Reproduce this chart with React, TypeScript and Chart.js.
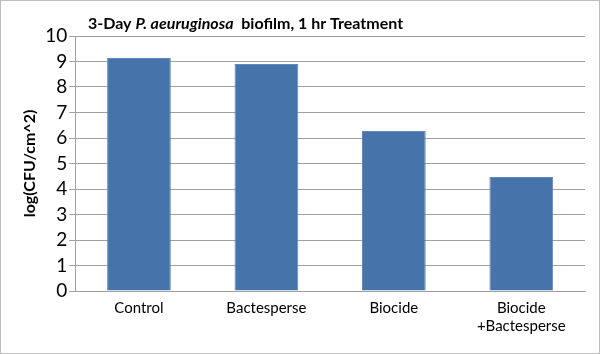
import React, { useEffect, useRef } from "react";
import { Chart, registerables } from "chart.js";

Chart.register(...registerables);

const categories: (string | string[])[] = ["Control", "Bactesperse", "Biocide", ["Biocide", "+Bactesperse"]];
const values = [9.14, 8.9, 6.27, 4.47];
const yTicks = [0, 1, 2, 3, 4, 5, 6, 7, 8, 9, 10];
const titleParts = [
  { text: "3-Day ", italic: false },
  { text: "P. aeuruginosa", italic: true },
  { text: "  biofilm, 1 hr Treatment", italic: false },
];
const yTitle = "log(CFU/cm^2)";

const FONT = "Lato, 'Open Sans', sans-serif";

const titlePlugin = {
  id: "mixedTitle",
  afterDraw(chart: any) {
    const ctx = chart.ctx;
    ctx.save();
    ctx.fillStyle = "#000";
    ctx.textBaseline = "alphabetic";
    let x = 87;
    const y = 28;
    for (const p of titleParts) {
      ctx.font = `${p.italic ? "italic " : ""}bold 16px ${FONT}`;
      ctx.fillText(p.text, x, y);
      x += ctx.measureText(p.text).width;
    }
    ctx.restore();
  },
};

export default function App() {
  const ref = useRef<HTMLCanvasElement>(null);
  useEffect(() => {
    document.body.style.margin = "0";
    const chart = new Chart(ref.current!, {
      type: "bar",
      data: {
        labels: categories as any,
        datasets: [
          {
            data: values,
            backgroundColor: "#4674AA",
            borderColor: "#5E88BA",
            borderWidth: 1,
            barPercentage: 0.5,
            categoryPercentage: 1,
          },
        ],
      },
      options: {
        animation: false,
        responsive: false,
        maintainAspectRatio: false,
        layout: { padding: { top: 35, right: 14, left: 19, bottom: 10 } },
        plugins: { legend: { display: false }, title: { display: false }, tooltip: { enabled: false } },
        scales: {
          x: {
            grid: { display: false, drawTicks: false },
            border: { color: "#A0A0A0", width: 1 },
            ticks: { color: "#000", font: { family: FONT, size: 15 }, padding: 8, autoSkip: false, maxRotation: 0 },
          },
          y: {
            min: 0,
            max: 10,
            afterBuildTicks: (axis: any) => {
              axis.ticks = yTicks.map((v) => ({ value: v }));
            },
            grid: { color: "#A0A0A0", tickLength: 6, lineWidth: 1 },
            border: { color: "#A0A0A0", width: 1 },
            ticks: { color: "#000", font: { family: FONT, size: 19 }, padding: 2, autoSkip: false },
            title: {
              display: true,
              text: yTitle,
              color: "#000",
              font: { family: FONT, size: 16, weight: "bold" },
              padding: { top: 0, bottom: 4 },
            },
          },
        },
      },
      plugins: [titlePlugin],
    });
    return () => chart.destroy();
  }, []);
  return (
    <div style={{ width: 600, height: 354, boxSizing: "border-box", border: "1px solid #BEBEBE", background: "#fff" }}>
      <canvas ref={ref} width={598} height={352} style={{ display: "block" }} />
    </div>
  );
}
